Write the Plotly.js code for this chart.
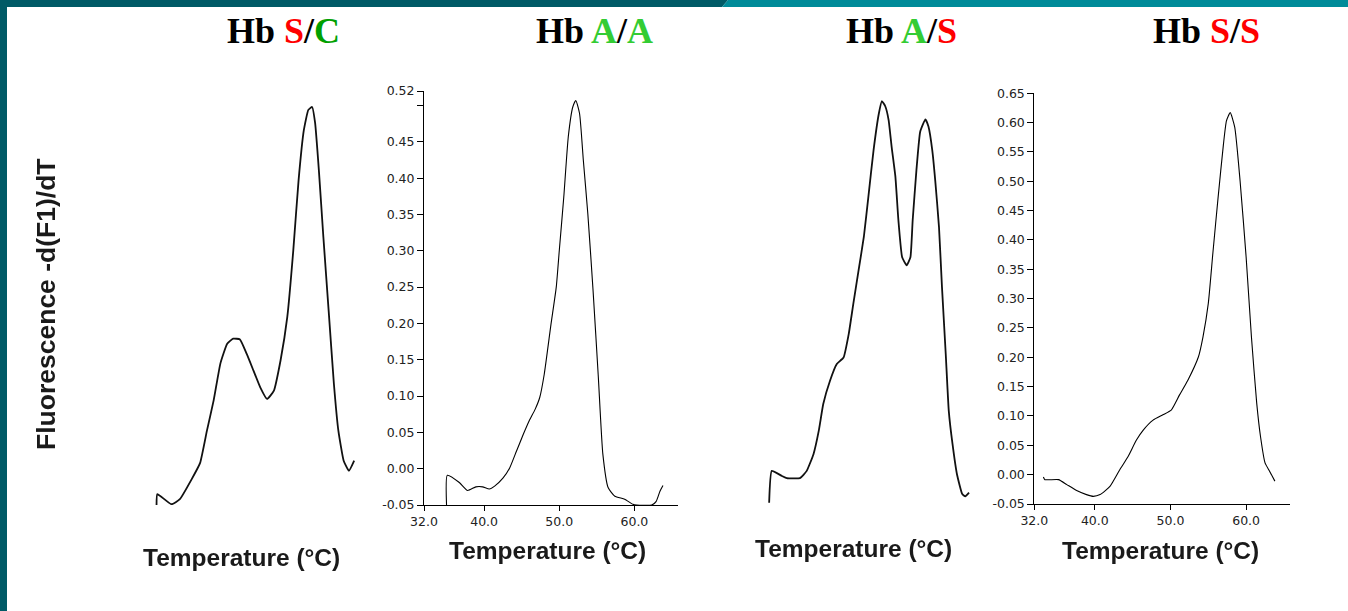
<!DOCTYPE html>
<html>
<head>
<meta charset="utf-8">
<script src="https://cdn.plot.ly/plotly-3.0.1.min.js"></script>
<style>
  html, body { margin: 0; padding: 0; background: #ffffff; }
  #chart { width: 1348px; height: 611px; }
  /* soft, scanned-looking axis captions */
  g.annotation[data-index="4"], g.annotation[data-index="5"],
  g.annotation[data-index="6"], g.annotation[data-index="7"],
  g.annotation[data-index="8"] { filter: blur(0.7px); }
</style>
</head>
<body>
<div id="chart"></div>
<script>
// Melting-curve derivative traces, -d(F1)/dT versus temperature (°C)

// Hb S/C
const tempSC = [35.0, 35.1, 37.0, 38.1, 39.7, 40.8, 41.7, 42.6, 43.5, 44.4, 45.2, 46.1, 47.0, 47.9, 48.8,
                49.7, 50.6, 51.5, 52.4, 53.2, 53.9, 54.6, 55.2, 55.7, 56.1, 56.6, 57.2, 57.9, 58.6, 59.2,
                59.9, 60.6, 61.3];
const valSC  = [-0.050, -0.035, -0.049, -0.042, -0.014, 0.008, 0.052, 0.094, 0.145, 0.172, 0.179, 0.178, 0.158, 0.135, 0.112,
                0.096, 0.107, 0.149, 0.209, 0.301, 0.397, 0.466, 0.494, 0.498, 0.476, 0.411, 0.319, 0.218, 0.117, 0.052,
                0.011, -0.003, 0.011];

// Hb A/A
const tempAA = [35.0, 35.1, 36.7, 37.8, 38.9, 39.8, 40.7, 41.4, 42.5, 43.4, 44.3, 45.2, 46.0, 46.8, 47.4,
                48.0, 48.9, 49.6, 50.0, 50.6, 51.2, 51.8, 52.2, 52.7, 53.2, 53.8, 54.5, 55.2, 55.8, 56.5,
                57.4, 58.7, 59.8, 60.3, 62.3, 62.9, 63.4, 63.8];
const valAA  = [-0.050, -0.009, -0.019, -0.030, -0.025, -0.025, -0.028, -0.024, -0.013, 0.001, 0.024, 0.047, 0.066, 0.082, 0.098,
                0.130, 0.199, 0.250, 0.300, 0.374, 0.457, 0.498, 0.507, 0.489, 0.425, 0.351, 0.245, 0.126, 0.020, -0.026,
                -0.038, -0.042, -0.049, -0.050, -0.050, -0.045, -0.031, -0.023];

// Hb A/S
const tempAS = [35.0, 35.35, 36.7, 37.35, 39.1, 40.0, 40.9, 41.6, 42.2, 43.1, 44.0, 44.9, 45.6, 46.2, 46.9,
                47.6, 48.2, 48.9, 49.6, 50.0, 50.45, 50.9, 51.3, 51.8, 52.2, 52.7, 53.3, 53.8, 54.1, 54.6,
                55.1, 55.8, 56.2, 56.7, 57.1, 57.6, 58.0, 58.5, 58.9, 59.4, 60.0, 60.7, 61.1, 61.6];
const valAS  = [-0.047, -0.003, -0.010, -0.013, -0.013, -0.003, 0.020, 0.052, 0.089, 0.121, 0.144, 0.153, 0.186, 0.227, 0.273,
                0.319, 0.374, 0.439, 0.489, 0.506, 0.499, 0.480, 0.443, 0.402, 0.342, 0.291, 0.280, 0.291, 0.342, 0.411,
                0.464, 0.481, 0.471, 0.439, 0.397, 0.333, 0.250, 0.158, 0.080, 0.034, -0.008, -0.035, -0.038, -0.033];

// Hb S/S
const tempSS = [33.2, 33.4, 35.2, 36.3, 37.6, 38.9, 39.8, 40.7, 42.0, 43.3, 44.4, 45.5, 46.4, 47.7, 49.0,
                50.1, 51.2, 52.3, 53.7, 54.3, 55.0, 55.6, 56.3, 57.0, 57.4, 57.9, 58.5, 59.2, 60.0, 60.7,
                61.4, 61.9, 62.5, 63.1, 63.8];
const valSS  = [-0.004, -0.0085, -0.0085, -0.017, -0.027, -0.034, -0.037, -0.034, -0.020, 0.0085, 0.031, 0.059, 0.076, 0.093, 0.102,
                0.110, 0.136, 0.161, 0.201, 0.235, 0.292, 0.377, 0.473, 0.563, 0.603, 0.617, 0.592, 0.501, 0.371, 0.235,
                0.122, 0.065, 0.020, 0.006, -0.011];

// Tick labels
const xTickVals = [32, 40, 50, 60];
const xTickText = ["32.0", "40.0", "50.0", "60.0"];
const yTickValsAA = [-0.05, 0.00, 0.05, 0.10, 0.15, 0.20, 0.25, 0.30, 0.35, 0.40, 0.45, 0.50, 0.52];
const yTickTextAA = ["-0.05", "0.00", "0.05", "0.10", "0.15", "0.20", "0.25", "0.30", "0.35", "0.40", "0.45", "", "0.52"];
const yTickValsSS = [-0.05, 0.00, 0.05, 0.10, 0.15, 0.20, 0.25, 0.30, 0.35, 0.40, 0.45, 0.50, 0.55, 0.60, 0.65];
const yTickTextSS = ["-0.05", "0.00", "0.05", "0.10", "0.15", "0.20", "0.25", "0.30", "0.35", "0.40", "0.45", "0.50", "0.55", "0.60", "0.65"];

// Text
const xLabel = "Temperature (°C)";
const yLabel = "Fluorescence -d(F1)/dT";
const RED = "#ff0000", GREEN = "#33cc33", DARKGREEN = "#00a000";
const genotypeTitles = [
  `<b>Hb <span style="color:${RED}">S</span>/<span style="color:${DARKGREEN}">C</span></b>`,
  `<b>Hb <span style="color:${GREEN}">A</span>/<span style="color:${GREEN}">A</span></b>`,
  `<b>Hb <span style="color:${GREEN}">A</span>/<span style="color:${RED}">S</span></b>`,
  `<b>Hb <span style="color:${RED}">S</span>/<span style="color:${RED}">S</span></b>`
];

// ---- page geometry (pixels -> paper fractions)
const W = 1348, H = 611;
const px = x => x / W;
const py = y => 1 - y / H;

const lineThin = { color: "#000000", width: 1.1, shape: "spline", smoothing: 0.5 };
const lineBold = { color: "#111111", width: 1.8, shape: "spline", smoothing: 0.4 };

const traces = [
  { x: tempSC, y: valSC, xaxis: "x",  yaxis: "y",  mode: "lines", line: lineBold, hoverinfo: "skip" },
  { x: tempAA, y: valAA, xaxis: "x2", yaxis: "y2", mode: "lines", line: lineThin, hoverinfo: "skip" },
  { x: tempAS, y: valAS, xaxis: "x3", yaxis: "y3", mode: "lines", line: lineBold, hoverinfo: "skip" },
  { x: tempSS, y: valSS, xaxis: "x4", yaxis: "y4", mode: "lines", line: lineThin, hoverinfo: "skip" }
];

const tickFont = { family: "DejaVu Sans", size: 12.5, color: "#222222" };

function hiddenAxis(domain, range) {
  return { domain, range, visible: false, fixedrange: true };
}
function shownX(domain, anchor) {
  return {
    domain, range: [32, 65.8], anchor,
    showline: true, linecolor: "#000", linewidth: 1,
    showgrid: false, zeroline: false,
    ticks: "outside", ticklen: 5, tickwidth: 1, tickcolor: "#000",
    tickmode: "array", tickvals: xTickVals, ticktext: xTickText,
    tickfont: tickFont, fixedrange: true
  };
}
function shownY(domain, anchor, range, vals, text) {
  return {
    domain, range, anchor,
    showline: true, linecolor: "#000", linewidth: 1,
    showgrid: false, zeroline: false,
    ticks: "outside", ticklen: 6, tickwidth: 1, tickcolor: "#000",
    tickmode: "array", tickvals: vals, ticktext: text,
    tickfont: tickFont, fixedrange: true
  };
}

const yDomA = [py(505), py(91)];

const layout = {
  width: W, height: H,
  margin: { l: 0, r: 0, t: 0, b: 0 },
  paper_bgcolor: "#ffffff",
  plot_bgcolor: "rgba(0,0,0,0)",
  showlegend: false,

  xaxis:  hiddenAxis([px(134), px(388)], [32, 65.8]),
  yaxis:  hiddenAxis(yDomA, [-0.05, 0.52]),
  xaxis2: shownX([px(424), px(678)], "y2"),
  yaxis2: shownY(yDomA, "x2", [-0.05, 0.52], yTickValsAA, yTickTextAA),
  xaxis3: hiddenAxis([px(746.6), px(1000.6)], [32, 65.8]),
  yaxis3: hiddenAxis(yDomA, [-0.05, 0.52]),
  xaxis4: shownX([px(1034.3), px(1290)], "y4"),
  yaxis4: shownY([py(504), py(93.3)], "x4", [-0.05, 0.65], yTickValsSS, yTickTextSS),

  shapes: [
    // slide frame: left bar and top band
    { type: "rect", xref: "paper", yref: "paper", x0: 0, x1: px(7), y0: 0, y1: 1,
      fillcolor: "#005a66", line: { width: 0 }, layer: "below" },
    { type: "path", xref: "paper", yref: "paper",
      path: `M 0,1 L ${px(728)},1 L ${px(722)},${py(7)} L 0,${py(7)} Z`,
      fillcolor: "#005a66", line: { width: 0 }, layer: "below" },
    { type: "path", xref: "paper", yref: "paper",
      path: `M ${px(728)},1 L 1,1 L 1,${py(7)} L ${px(722)},${py(7)} Z`,
      fillcolor: "#008b99", line: { width: 0 }, layer: "below" }
  ],

  annotations: [
    ...genotypeTitles.map((t, i) => ({
      text: t, xref: "paper", yref: "paper",
      x: px([283, 594, 902, 1206][i]), y: py(31),
      xanchor: "center", yanchor: "middle", showarrow: false,
      font: { family: "Liberation Serif", size: 36, color: "#000000" }
    })),
    ...[241, 547, 853, 1160].map((cx, i) => ({
      text: xLabel, xref: "paper", yref: "paper",
      x: px(cx), y: py([557, 550, 548, 550][i]),
      xanchor: "center", yanchor: "middle", showarrow: false,
      font: { family: "Liberation Sans", size: 24.5, color: "#1a1a1a", weight: "bold" }
    })),
    {
      text: yLabel, xref: "paper", yref: "paper",
      x: px(46), y: py(304), textangle: -90,
      xanchor: "center", yanchor: "middle", showarrow: false,
      font: { family: "Liberation Sans", size: 26.5, color: "#1a1a1a", weight: "bold" }
    }
  ]
};

Plotly.newPlot("chart", traces, layout, { staticPlot: true, displayModeBar: false });
</script>
</body>
</html>
